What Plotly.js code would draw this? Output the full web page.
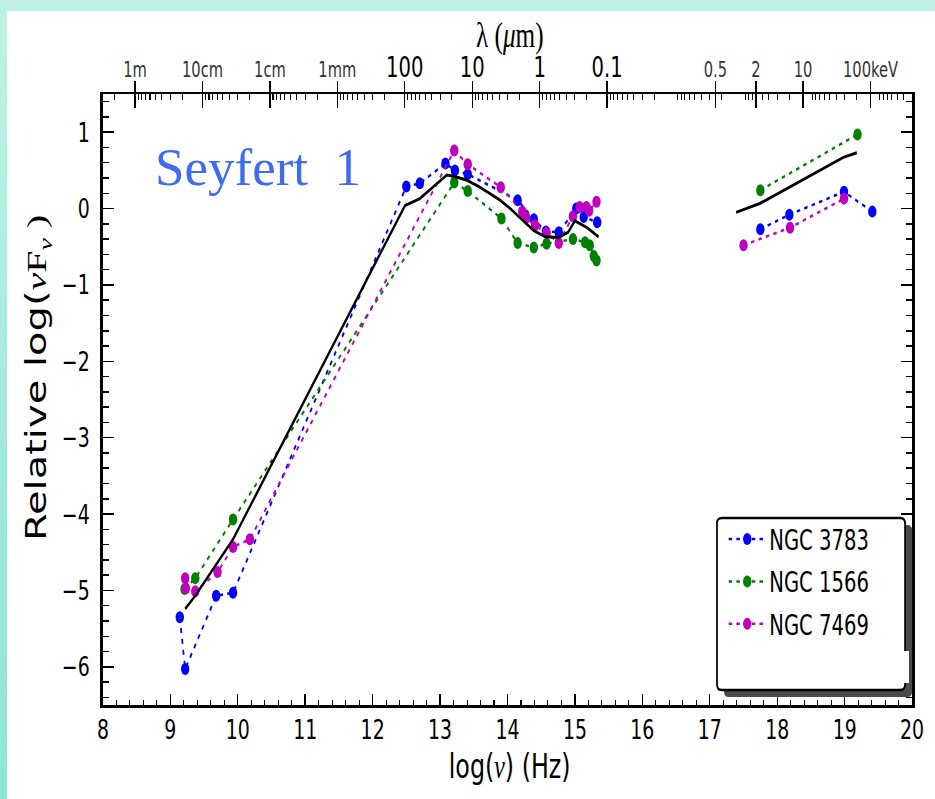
<!DOCTYPE html>
<html><head><meta charset="utf-8">
<script src="https://cdn.plot.ly/plotly-3.0.1.min.js"></script>
<style>
html,body{margin:0;padding:0;width:935px;height:799px;overflow:hidden;}
body{background:linear-gradient(180deg,#c0f2e7 0%,#a8ecdd 40%,#8ee5d3 100%);position:relative;}
#chart{position:absolute;left:7px;top:11px;width:1326px;height:788px;transform:scaleX(0.7);transform-origin:0 0;background:#fff;}
#tag{position:absolute;left:155px;top:141px;font-family:'Liberation Serif','Times New Roman',serif;font-size:53px;line-height:53px;color:#3d6cf0;white-space:pre;}
</style></head><body>
<div id="chart"></div>
<div id="tag">Seyfert&nbsp;&nbsp;1</div>
<script>
// ---- data (log nu [Hz], relative log(nu F_nu)) ----
const ngc3783_logNu = [9.14, 9.22, 9.68, 9.93, 12.50, 12.70, 13.08, 13.22, 13.41, 14.15, 14.39, 14.57, 14.76, 15.02, 15.13, 15.33, null, 17.75, 18.18, 18.99, 19.41];
const ngc3783_flux  = [-5.35, -6.03, -5.07, -5.03, 0.29, 0.33, 0.59, 0.50, 0.45, 0.11, -0.14, -0.30, -0.31, 0.00, -0.11, -0.18, null, -0.27, -0.08, 0.22, -0.04];

const ngc1566_logNu = [9.21, 9.37, 9.93, 13.21, 13.41, 13.91, 14.15, 14.39, 14.58, 14.97, 15.15, 15.22, 15.28, 15.32, null, 17.75, 19.19];
const ngc1566_flux  = [-4.98, -4.84, -4.07, 0.34, 0.23, -0.13, -0.45, -0.51, -0.46, -0.40, -0.44, -0.48, -0.62, -0.68, null, 0.24, 0.97];

const ngc7469_logNu = [9.22, 9.23, 9.37, 9.70, 9.93, 10.18, 13.21, 13.41, 13.90, 14.22, 14.28, 14.41, 14.58, 14.76, 14.97, 15.07, 15.17, 15.21, 15.32, null, 17.50, 18.19, 18.99];
const ngc7469_flux  = [-4.84, -4.97, -5.01, -4.76, -4.43, -4.33, 0.76, 0.58, 0.28, -0.04, -0.12, -0.22, -0.32, -0.45, -0.10, 0.02, 0.02, -0.03, 0.09, null, -0.48, -0.25, 0.13];

const mean_logNu = [9.22, 9.37, 9.93, 12.48, 12.70, 13.10, 13.22, 13.40, 13.59, 13.89, 14.04, 14.24, 14.39, 14.56, 14.76, 14.90, 15.00, 15.08, 15.18, 15.35, null, 17.39, 17.75, 18.98, 19.18];
const mean_flux  = [-5.24, -5.07, -4.33, 0.04, 0.13, 0.44, 0.42, 0.37, 0.28, 0.11, 0.00, -0.16, -0.29, -0.37, -0.38, -0.31, -0.16, -0.20, -0.25, -0.37, null, -0.05, 0.07, 0.67, 0.73];

const seriesNames = ['NGC 3783', 'NGC 1566', 'NGC 7469'];
const seriesColors = ['#0000ff', '#008000', '#bf00bf'];

// ---- top axis labels: wavelength and X-ray energy ----
const waveLabels = ['1m', '10cm', '1cm', '1mm', '100', '10', '1', '0.1'];
const waveMeters = [1, 0.1, 0.01, 0.001, 1e-4, 1e-5, 1e-6, 1e-7];
const waveBig = [false, false, false, false, true, true, true, true];
const energyLabels = ['0.5', '2', '10', '100keV'];
const energyKeV = [0.5, 2, 10, 100];

const C_LIGHT = 2.998e8;          // m/s
const KEV_TO_HZ = 2.418e17;       // Hz per keV
const topVals = waveMeters.map(l => Math.log10(C_LIGHT / l)).concat(energyKeV.map(e => Math.log10(e * KEV_TO_HZ)));
const topText = waveLabels.map((t, i) => waveBig[i] ? '<span style="font-size:28px;color:#000">' + t + '</span>' : t).concat(energyLabels);
const topMinor = [];
for (let d = -1; d <= 12; d++) {
  const base = Math.log10(C_LIGHT) + d;
  for (let k = 2; k <= 9; k++) {
    const v = base + Math.log10(10 / k);
    if (v > 8 && v < 20) topMinor.push(v);
  }
}

const FONT = 'DejaVu Sans, Arial, sans-serif';
const SERIF = 'Liberation Serif, DejaVu Serif, serif';

const traces = [];
const xs = [ngc3783_logNu, ngc1566_logNu, ngc7469_logNu];
const ys = [ngc3783_flux, ngc1566_flux, ngc7469_flux];
for (let i = 0; i < 3; i++) {
  traces.push({
    x: xs[i], y: ys[i], name: seriesNames[i], type: 'scatter', mode: 'lines+markers',
    legendgroup: 'g' + i,
    line: {color: seriesColors[i], width: 2.5, dash: '5px,6px'},
    marker: {color: seriesColors[i], size: 12}
  });
}
traces.push({
  x: mean_logNu, y: mean_flux, type: 'scatter', mode: 'lines', showlegend: false,
  line: {color: '#000', width: 3}
});
// empty carriers so the two top (wavelength / energy) axes are drawn
traces.push({x: [], y: [], xaxis: 'x2', yaxis: 'y', type: 'scatter', mode: 'markers', showlegend: false, hoverinfo: 'skip'});
traces.push({x: [], y: [], xaxis: 'x3', yaxis: 'y', type: 'scatter', mode: 'markers', showlegend: false, hoverinfo: 'skip'});

function rr(x0, y0, x1, y1, rx, ry) {
  return `M${x0 + rx},${y0} L${x1 - rx},${y0} Q${x1},${y0} ${x1},${y0 + ry} L${x1},${y1 - ry} Q${x1},${y1} ${x1 - rx},${y1} L${x0 + rx},${y1} Q${x0},${y1} ${x0},${y1 - ry} L${x0},${y0 + ry} Q${x0},${y0} ${x0 + rx},${y0} Z`;
}
const bx0 = 0.7589, bx1 = 0.9913, by0 = 0.0245, by1 = 0.306;
const sdx = 0.0087, sdy = 0.0115;

const layout = {
  width: 1326, height: 788, autosize: false,
  margin: {l: 137, r: 33, t: 83, b: 94, pad: 0},
  paper_bgcolor: '#ffffff', plot_bgcolor: '#ffffff',
  font: {family: FONT, color: '#000'},
  showlegend: true,
  legend: {x: 0.769, y: 0.312, xanchor: 'left', yanchor: 'top', bgcolor: 'rgba(0,0,0,0)', borderwidth: 0,
           font: {family: FONT, size: 28, color: '#000'}, itemwidth: 53, traceorder: 'grouped', tracegroupgap: 3},
  xaxis: {
    range: [8, 20], tick0: 8, dtick: 1, ticks: 'inside', ticklen: 11, tickwidth: 2, tickcolor: '#000',
    showline: true, linewidth: 2.5, linecolor: '#000', mirror: false, showgrid: false, zeroline: false,
    tickfont: {family: FONT, size: 27, color: '#000'}, ticklabelstandoff: -1,
    minor: {tick0: 8, dtick: 0.2, ticks: 'inside', ticklen: 5, tickwidth: 1.5, tickcolor: '#000', showgrid: false}
  },
  xaxis2: {
    overlaying: 'x', side: 'top', anchor: 'y', range: [8, 20],
    tickmode: 'array', tickvals: topVals, ticktext: topText,
    ticks: 'outside', ticklen: 11, tickwidth: 2, tickcolor: '#000',
    showline: true, linewidth: 2.5, linecolor: '#000', showgrid: false, zeroline: false,
    tickfont: {family: FONT, size: 21, color: '#333'}, ticklabelstandoff: -5,
    minor: {tickmode: 'array', tickvals: topMinor, ticks: 'inside', ticklen: 6, tickwidth: 1.5, tickcolor: '#000', showgrid: false}
  },
  xaxis3: {
    overlaying: 'x', side: 'top', anchor: 'y', range: [8, 20],
    tickmode: 'array', tickvals: topVals, ticks: 'inside', ticklen: 14, tickwidth: 2, tickcolor: '#000',
    showticklabels: false, showline: false, showgrid: false, zeroline: false
  },
  yaxis: {
    range: [-6.5, 1.5], tick0: 0, dtick: 1, ticks: 'inside', ticklen: 16, tickwidth: 1.5, tickcolor: '#000',
    showline: true, linewidth: 3.5, linecolor: '#000', mirror: 'ticks', showgrid: false, zeroline: false,
    tickfont: {family: FONT, size: 27, color: '#000'}, ticklabelstandoff: 10,
    minor: {tick0: 0, dtick: 0.2, ticks: 'inside', ticklen: 8.5, tickwidth: 1.5, tickcolor: '#000', showgrid: false}
  },
  annotations: [
    {text: 'λ (<i>μ</i>m)', xref: 'paper', yref: 'paper', x: 0.503, y: 1.097, xanchor: 'center', yanchor: 'middle',
     showarrow: false, font: {family: SERIF, size: 36, color: '#000'}},
    {text: 'log(<span style="font-family:Liberation Serif"><i>ν</i></span>) (Hz)', xref: 'paper', yref: 'paper', x: 0.503, y: -0.1,
     xanchor: 'center', yanchor: 'middle', showarrow: false, font: {family: FONT, size: 34, color: '#000'}},
    {text: 'Relative log(<span style="font-family:Liberation Serif"><i>ν</i>F<sub><i>ν</i></sub> )</span>', xref: 'paper', yref: 'paper',
     x: -0.0805, y: 0.535, xanchor: 'center', yanchor: 'middle', textangle: -90, showarrow: false,
     font: {family: FONT, size: 40, color: '#000'}}
  ],
  shapes: [
    {type: 'path', xref: 'paper', yref: 'paper', layer: 'above', path: rr(bx0 + sdx, by0 - sdy, bx1 + sdx, by1 - sdy, 0.006, 0.009),
     fillcolor: '#4a4a4a', line: {width: 0}},
    {type: 'path', xref: 'paper', yref: 'paper', layer: 'above', path: rr(bx0, by0, bx1, by1, 0.006, 0.009),
     fillcolor: '#ffffff', line: {color: '#000', width: 2.5}},
    {type: 'rect', xref: 'paper', yref: 'paper', layer: 'above', x0: 0.9875, x1: 0.9962, y0: 0.036, y1: 0.0884,
     fillcolor: '#ffffff', line: {width: 0}}
  ]
};

Plotly.newPlot('chart', traces, layout, {staticPlot: true, displayModeBar: false});
</script>
</body></html>
